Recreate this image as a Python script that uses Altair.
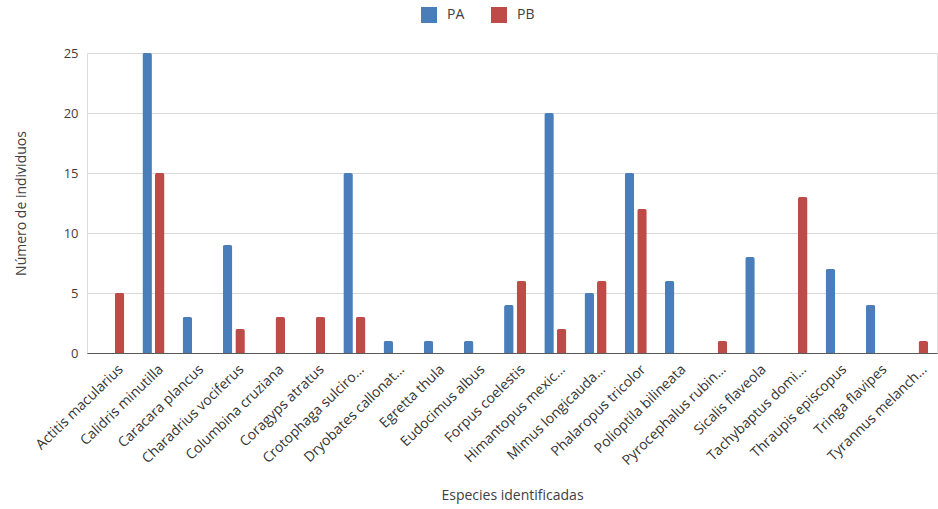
import altair as alt
import pandas as pd

# Species observed (labels as shown on the axis)
especies = [
    "Actitis macularius", "Calidris minutilla", "Caracara plancus",
    "Charadrius vociferus", "Columbina cruziana", "Coragyps atratus",
    "Crotophaga sulciro...", "Dryobates callonat...", "Egretta thula",
    "Eudocimus albus", "Forpus coelestis", "Himantopus mexic...",
    "Mimus longicauda...", "Phalaropus tricolor", "Polioptila bilineata",
    "Pyrocephalus rubin...", "Sicalis flaveola", "Tachybaptus domi...",
    "Thraupis episcopus", "Tringa flavipes", "Tyrannus melanch...",
]

# Individuals counted at each site
pa = [0, 25, 3, 9, 0, 0, 15, 1, 1, 1, 4, 20, 5, 15, 6, 0, 8, 0, 7, 4, 0]
pb = [5, 15, 0, 2, 3, 3, 3, 0, 0, 0, 6, 2, 6, 12, 0, 1, 0, 13, 0, 0, 1]

series = ["PA", "PB"]
colores = ["#4a7ebb", "#be4b48"]
y_ticks = [0, 5, 10, 15, 20, 25]

rows = []
for i, sp in enumerate(especies):
    rows.append({"especie": sp, "serie": "PA", "n": pa[i]})
    rows.append({"especie": sp, "serie": "PB", "n": pb[i]})
df = pd.DataFrame(rows)

FONT = "Open Sans"

chart = (
    alt.Chart(df)
    .mark_bar(cornerRadiusTopLeft=2, cornerRadiusTopRight=2)
    .encode(
        x=alt.X(
            "especie:N",
            sort=especies,
            title="Especies identificadas",
            scale=alt.Scale(paddingInner=0.45, paddingOuter=0.3, align=0.63),
            axis=alt.Axis(
                labelAngle=-44,
                labelFont=FONT,
                labelFontSize=14,
                labelColor="#333333",
                labelLimit=0,
                labelPadding=9,
                labelOffset=3,
                ticks=False,
                domainColor="#595959",
                domainWidth=1,
                grid=False,
                titleFont=FONT,
                titleFontSize=14,
                titleFontWeight="normal",
                titleColor="#404040",
                titlePadding=21,
            ),
        ),
        xOffset=alt.XOffset(
            "serie:N", sort=series, scale=alt.Scale(paddingInner=0.24, paddingOuter=0)
        ),
        y=alt.Y(
            "n:Q",
            title="Número de individuos",
            scale=alt.Scale(domain=[0, 25], nice=False),
            axis=alt.Axis(
                values=y_ticks,
                labelFont=FONT,
                labelFontSize=13,
                labelColor="#404040",
                labelPadding=9,
                ticks=False,
                domain=False,
                gridColor="#d9d9d9",
                gridWidth=1,
                titleFont=FONT,
                titleFontSize=14,
                titleFontWeight="normal",
                titleColor="#404040",
                titlePadding=35,
            ),
        ),
        color=alt.Color(
            "serie:N",
            sort=series,
            scale=alt.Scale(domain=series, range=colores),
            legend=alt.Legend(
                title=None,
                orient="none",
                direction="horizontal",
                legendX=334,
                legendY=-46,
                symbolType="square",
                symbolSize=256,
                symbolStrokeWidth=0,
                labelFont=FONT,
                labelFontSize=14,
                labelColor="#404040",
                labelOffset=10,
                columnPadding=26,
            ),
        ),
    )
    .properties(
        width=850,
        height=300,
        autosize=alt.AutoSizeParams(type="none"),
        padding={"left": 87, "top": 53, "right": 1, "bottom": 156},
    )
    .configure_view(stroke=None)
    .configure(background="white")
)

chart.save("out.html", embed_options={"renderer": "svg", "actions": False})
